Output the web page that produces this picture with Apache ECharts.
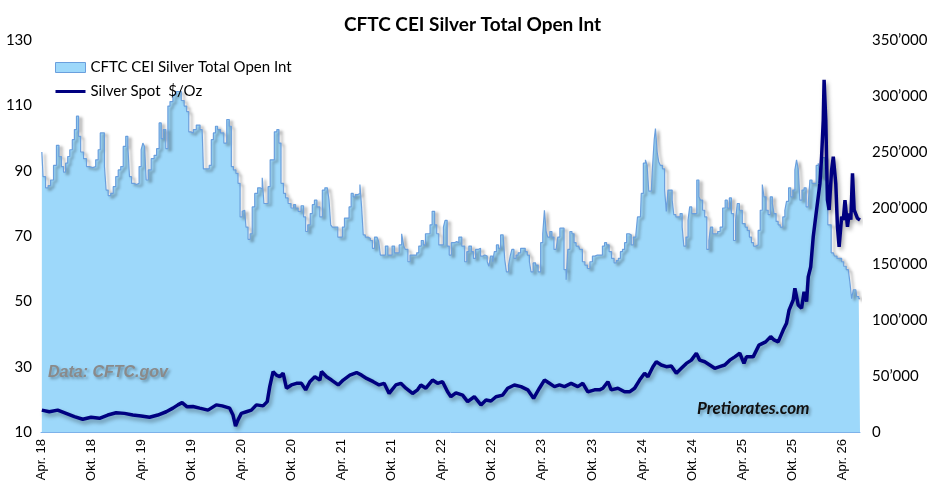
<!DOCTYPE html>
<html>
<head>
<meta charset="utf-8">
<title>CFTC CEI Silver Total Open Int</title>
<script src="https://cdn.jsdelivr.net/npm/echarts@6/dist/echarts.min.js"></script>
<style>
  html, body { margin: 0; padding: 0; background: #fff; }
  #chart { width: 945px; height: 495px; }
</style>
</head>
<body>
<div id="chart"></div>
<script>
// x positions are months since Apr. 2018
var xLabels = ['Apr. 18', 'Okt. 18', 'Apr. 19', 'Okt. 19', 'Apr. 20', 'Okt. 20', 'Apr. 21', 'Okt. 21', 'Apr. 22',
  'Okt. 22', 'Apr. 23', 'Okt. 23', 'Apr. 24', 'Okt. 24', 'Apr. 25', 'Okt. 25', 'Apr. 26'];

// open interest, thousands of contracts (right axis)
var oiMonth = [0.1, 0.4, 0.7, 1.0, 1.3, 1.7, 2.0, 2.3, 2.6, 2.8, 3.1, 3.3, 3.6, 3.9, 4.1, 4.4, 4.6, 4.9, 5.3, 5.6,
  6.0, 6.4, 6.7, 7.0, 7.2, 7.5, 7.7, 7.9, 8.2, 8.5, 8.8, 9.1, 9.4, 9.7, 10.0, 10.3, 10.5, 10.7, 11.0, 11.3,
  11.6, 11.9, 12.1, 12.3, 12.5, 12.7, 13.0, 13.4, 13.7, 14.0, 14.3, 14.5, 14.8, 15.1, 15.3, 15.6, 16.0, 16.4, 16.6, 17.0,
  17.3, 17.6, 17.8, 18.1, 18.4, 18.8, 19.3, 19.6, 20.0, 20.3, 20.5, 20.8, 21.0, 21.3, 21.7, 22.1, 22.4, 22.7, 22.9, 23.2,
  23.5, 23.7, 24.0, 24.2, 24.4, 24.7, 24.9, 25.2, 25.4, 25.8, 26.1, 26.4, 26.6, 26.8, 27.1, 27.3, 27.6, 27.8, 28.1, 28.4,
  28.6, 28.9, 29.2, 29.4, 29.8, 30.1, 30.4, 30.6, 31.0, 31.3, 31.6, 31.8, 32.1, 32.4, 32.6, 32.9, 33.2, 33.6, 33.8, 34.2,
  34.4, 34.6, 34.8, 35.0, 35.4, 35.7, 36.0, 36.2, 36.5, 36.8, 37.0, 37.3, 37.5, 37.8, 38.1, 38.3, 38.5, 38.7, 39.0, 39.3,
  39.6, 39.8, 40.1, 40.4, 40.5, 40.8, 41.1, 41.4, 41.7, 41.9, 42.2, 42.5, 42.8, 43.0, 43.4, 43.5, 43.8, 44.1, 44.3, 44.6,
  44.9, 45.1, 45.4, 45.7, 45.9, 46.2, 46.5, 46.7, 47.0, 47.3, 47.5, 47.8, 48.1, 48.3, 48.5, 48.8, 49.0, 49.3, 49.7, 49.9,
  50.2, 50.6, 50.9, 51.1, 51.4, 51.7, 51.9, 52.2, 52.5, 52.8, 53.0, 53.3, 53.6, 53.7, 54.0, 54.2, 54.4, 54.7, 54.9, 55.2,
  55.5, 55.6, 55.9, 56.1, 56.3, 56.5, 56.8, 57.0, 57.3, 57.6, 57.9, 58.1, 58.4, 58.6, 58.8, 59.1, 59.4, 59.7, 60.0, 60.2,
  60.4, 60.6, 60.8, 61.1, 61.3, 61.6, 61.8, 62.0, 62.3, 62.5, 62.8, 63.0, 63.2, 63.5, 63.7, 64.0, 64.2, 64.4, 64.7, 65.0,
  65.3, 65.6, 65.9, 66.2, 66.5, 66.8, 67.1, 67.4, 67.6, 67.9, 68.2, 68.5, 68.8, 69.0, 69.3, 69.5, 69.8, 70.0, 70.3, 70.6,
  70.8, 71.1, 71.4, 71.5, 71.8, 72.0, 72.3, 72.5, 72.7, 72.9, 73.1, 73.4, 73.5, 73.7, 73.9, 74.1, 74.3, 74.6, 74.8, 75.0,
  75.2, 75.5, 75.7, 75.9, 76.2, 76.4, 76.7, 76.9, 77.1, 77.4, 77.6, 77.8, 78.1, 78.4, 78.7, 78.9, 79.1, 79.4, 79.6, 79.9,
  80.1, 80.3, 80.6, 80.9, 81.2, 81.5, 81.8, 82.1, 82.3, 82.6, 82.8, 83.1, 83.3, 83.5, 83.8, 84.2, 84.5, 84.7, 85.0, 85.2,
  85.5, 85.8, 86.0, 86.3, 86.5, 86.7, 87.0, 87.2, 87.5, 87.7, 87.9, 88.2, 88.4, 88.7, 89.0, 89.2, 89.4, 89.7, 89.9, 90.2,
  90.4, 90.6, 90.8, 91.0, 91.3, 91.5, 91.8, 92.0, 92.2, 92.5, 92.7, 93.0, 93.2, 93.4, 93.7, 94.1, 94.4, 94.9, 95.2, 95.5,
  95.8, 96.0, 96.3, 96.6, 96.8, 97.0, 97.2, 97.4, 97.6, 97.8, 98.1];
var oiValue = [250, 228, 218, 220, 225, 238, 256, 246, 237, 232, 240, 246, 252, 261, 270, 282, 264, 250, 244, 237,
  236, 237, 243, 252, 267, 267, 237, 216, 211, 213, 219, 228, 234, 237, 255, 264, 255, 228, 222, 221,
  222, 237, 252, 258, 255, 225, 234, 244, 247, 253, 276, 262, 270, 253, 291, 295, 301, 304, 304, 296,
  291, 286, 268, 267, 270, 274, 270, 235, 235, 238, 261, 267, 273, 270, 267, 258, 279, 273, 237, 234,
  231, 222, 192, 197, 198, 183, 172, 177, 201, 213, 218, 217, 227, 204, 204, 219, 243, 243, 268, 270,
  258, 222, 213, 209, 204, 200, 203, 200, 197, 202, 192, 179, 185, 195, 203, 207, 201, 192, 216, 218,
  219, 207, 185, 183, 183, 174, 174, 183, 191, 191, 201, 213, 210, 212, 213, 221, 201, 176, 174, 173,
  171, 164, 174, 174, 170, 158, 158, 166, 158, 158, 166, 160, 160, 167, 177, 166, 163, 152, 158, 158,
  158, 160, 166, 171, 167, 177, 177, 185, 197, 185, 177, 167, 167, 183, 189, 166, 158, 169, 170, 169,
  174, 166, 152, 161, 166, 161, 155, 163, 164, 157, 158, 157, 152, 148, 157, 152, 161, 167, 164, 176,
  176, 154, 143, 149, 157, 163, 155, 158, 160, 164, 164, 161, 158, 152, 143, 151, 149, 143, 169, 177,
  198, 179, 174, 179, 174, 163, 163, 174, 182, 182, 145, 136, 163, 179, 177, 169, 166, 166, 163, 152,
  149, 146, 152, 157, 158, 158, 158, 166, 169, 167, 161, 155, 151, 153, 155, 161, 163, 169, 177, 176,
  167, 174, 176, 192, 192, 213, 240, 243, 238, 215, 215, 237, 261, 271, 250, 241, 238, 235, 216, 197,
  216, 216, 207, 194, 192, 192, 195, 183, 166, 174, 189, 201, 195, 195, 225, 210, 207, 198, 192, 163,
  171, 183, 177, 177, 179, 183, 200, 207, 200, 209, 195, 171, 189, 204, 198, 186, 183, 180, 174, 169,
  166, 167, 180, 198, 221, 210, 198, 194, 210, 204, 195, 188, 185, 183, 192, 198, 206, 218, 210, 216,
  234, 243, 235, 207, 216, 218, 201, 204, 225, 222, 222, 238, 240, 228, 245, 225, 185, 160, 157, 155,
  155, 152, 148, 145, 145, 133, 119, 127, 127, 121, 119];

// silver spot, $/oz (left axis)
var agMonth = [0.1, 1.0, 2.0, 3.0, 4.0, 5.0, 6.0, 7.0, 8.0, 9.0, 10.0, 11.0, 12.0, 13.0, 14.0, 15.0, 15.8, 16.4, 16.9, 17.5,
  18.2, 19.0, 20.0, 21.0, 21.7, 22.6, 23.0, 23.3, 23.6, 24.0, 24.6, 25.2, 25.8, 26.6, 27.1, 27.4, 27.8, 28.2, 28.6, 29.0,
  29.4, 30.0, 30.6, 31.2, 31.7, 32.2, 32.8, 33.4, 33.6, 34.2, 34.8, 35.6, 36.2, 37.0, 37.8, 38.4, 39.0, 39.8, 40.5, 41.1,
  41.7, 42.5, 43.1, 43.7, 44.5, 45.1, 45.5, 46.1, 46.9, 47.5, 48.1, 48.7, 49.1, 49.7, 50.5, 51.1, 51.9, 52.7, 53.3, 53.9,
  54.5, 55.3, 55.9, 56.7, 57.5, 58.3, 59.0, 59.7, 60.3, 60.9, 61.5, 62.1, 62.7, 63.5, 64.3, 64.9, 65.5, 66.3, 66.9, 67.3,
  67.9, 68.3, 69.1, 69.9, 70.5, 71.1, 71.7, 72.3, 72.7, 73.3, 73.7, 74.3, 74.9, 75.5, 76.1, 76.7, 77.3, 77.9, 78.5, 78.9,
  79.5, 80.1, 80.7, 81.3, 81.9, 82.5, 83.1, 83.7, 84.2, 84.5, 85.3, 86.0, 86.8, 87.4, 87.8, 88.3, 88.9, 89.3, 89.6, 90.1,
  90.3, 90.7, 91.1, 91.4, 91.7, 91.9, 92.2, 92.5, 92.9, 93.3, 93.5, 93.7, 93.8, 94.0, 94.2, 94.4, 94.7, 94.9, 95.2, 95.4,
  95.6, 95.9, 96.1, 96.3, 96.6, 96.8, 97.0, 97.2, 97.4, 97.6, 97.8, 98.1];
var agPrice = [16.7, 16.2, 16.7, 15.7, 14.7, 13.9, 14.5, 14.2, 15.2, 15.9, 15.7, 15.2, 14.9, 14.5, 15.2, 16.2, 17.3, 18.3, 19.0, 17.7,
  17.8, 17.3, 16.7, 18.3, 18.0, 17.3, 15.2, 11.8, 13.7, 15.7, 16.2, 16.7, 18.3, 18.0, 19.3, 23.9, 28.5, 27.4, 26.9, 28.0,
  23.4, 24.4, 24.9, 24.9, 22.9, 25.4, 26.9, 25.9, 28.5, 26.9, 25.9, 24.4, 25.9, 27.4, 28.2, 27.4, 26.4, 25.4, 24.4, 24.9,
  21.8, 24.4, 24.9, 23.4, 21.8, 22.9, 24.4, 23.4, 25.9, 24.9, 25.4, 22.3, 20.8, 22.0, 21.3, 19.3, 20.8, 18.3, 19.8, 19.5,
  20.8, 21.3, 23.4, 24.4, 23.9, 22.9, 20.3, 23.4, 25.9, 24.9, 23.9, 24.4, 23.9, 24.9, 23.9, 24.9, 22.3, 22.9, 22.9, 23.4,
  25.4, 22.9, 23.4, 22.3, 22.3, 23.4, 25.9, 28.0, 26.9, 30.0, 31.5, 30.5, 30.0, 30.2, 28.0, 29.5, 31.0, 32.0, 34.1, 32.0,
  31.5, 30.5, 29.5, 30.0, 30.5, 32.0, 33.0, 34.1, 31.0, 33.0, 33.0, 36.6, 37.6, 39.2, 38.2, 37.6, 41.2, 43.3, 47.3, 50.4,
  54.0, 48.9, 47.9, 52.9, 49.9, 57.5, 60.6, 69.8, 78.0, 86.1, 94.3, 105.5, 117.8, 105.5, 81.0, 78.0, 90.2, 94.3, 86.0, 72.8,
  66.7, 75.9, 74.9, 81.0, 72.8, 76.9, 75.0, 89.2, 78.0, 78.0, 75.4, 74.9];

var rightTicks = ['0', '50’000', '100’000', '150’000', '200’000', '250’000', '300’000', '350’000'];

var oiData = []
for (var i = 0; i < oiMonth.length; i++) {
  oiData.push([oiMonth[i], oiValue[i]])
}
var agData = []
for (var i = 0; i < agMonth.length; i++) {
  agData.push([agMonth[i], agPrice[i]])
}

var areaColor = '#9DD8FA'
var edgeColor = '#6A9FDD'
var silverColor = '#000080'
var labelFont = 'Lato'

var chart = echarts.init(document.getElementById('chart'))

var option = {
  animation: false,
  backgroundColor: '#fff',
  title: {
    text: 'CFTC CEI Silver Total Open Int',
    left: 'center',
    top: 10,
    textStyle: { fontFamily: labelFont, fontWeight: 'bold', fontSize: 19, color: '#000' }
  },
  legend: {
    orient: 'vertical',
    left: 50,
    top: 55,
    itemWidth: 30,
    itemHeight: 10,
    itemGap: 9,
    textStyle: { fontFamily: labelFont, fontSize: 15, color: '#000' },
    data: [{
      name: 'CFTC CEI Silver Total Open Int',
      icon: 'rect',
      itemStyle: { color: areaColor, borderColor: edgeColor, borderWidth: 1 }
    }, {
      // plain thick line, no marker
      name: 'Silver Spot  $/Oz',
      icon: 'path://M0,0 L30,0 L30,3 L0,3 Z',
      itemStyle: { color: silverColor, borderWidth: 0 }
    }]
  },
  grid: { left: 41, right: 85, top: 40, bottom: 63 },
  xAxis: {
    type: 'value',
    min: 0,
    max: 98.1,
    interval: 6,
    splitLine: { show: false },
    axisTick: { show: false },
    axisLine: { lineStyle: { color: '#7DB2EA', width: 1 } },
    axisLabel: {
      rotate: 90,
      margin: 7,
      fontFamily: 'Liberation Sans',
      fontSize: 13,
      color: '#000',
      showMaxLabel: false,
      formatter: function (v) {
        if (v % 6 !== 0) return ''
        return xLabels[v / 6] || ''
      }
    }
  },
  yAxis: [{
    type: 'value',
    min: 10,
    max: 130,
    interval: 20,
    position: 'left',
    splitLine: { show: false },
    axisLine: { show: false },
    axisTick: { show: false },
    axisLabel: { fontFamily: labelFont, fontSize: 15, color: '#000', margin: 9 }
  }, {
    type: 'value',
    min: 0,
    max: 350,
    interval: 50,
    position: 'right',
    splitLine: { show: false },
    axisLine: { show: false },
    axisTick: { show: false },
    axisLabel: {
      fontFamily: labelFont,
      fontSize: 15,
      color: '#000',
      margin: 12,
      formatter: function (v) {
        return rightTicks[v / 50]
      }
    }
  }],
  graphic: [{
    type: 'text',
    left: 48,
    top: 365,
    z: 10,
    style: {
      text: 'Data: CFTC.gov',
      font: 'italic bold 16px "Liberation Sans"',
      fill: '#8A8A8A',
      textShadowColor: 'rgba(0,0,0,0.35)',
      textShadowBlur: 3,
      textShadowOffsetX: 2,
      textShadowOffsetY: 2
    }
  }, {
    type: 'text',
    left: 697,
    top: 400,
    z: 10,
    style: {
      text: 'Pretiorates.com',
      font: 'italic bold 17px Lato',
      fill: '#111',
      textShadowColor: 'rgba(0,0,0,0.3)',
      textShadowBlur: 3,
      textShadowOffsetX: 2,
      textShadowOffsetY: 2
    }
  }],
  series: [{
    name: 'CFTC CEI Silver Total Open Int',
    type: 'line',
    yAxisIndex: 1,
    data: oiData,
    step: 'middle',
    symbol: 'none',
    lineStyle: {
      color: edgeColor,
      width: 1.2,
      shadowColor: 'rgba(0,0,0,0.45)',
      shadowBlur: 3,
      shadowOffsetX: 3,
      shadowOffsetY: 2
    },
    itemStyle: { color: areaColor, borderColor: edgeColor },
    areaStyle: { color: areaColor, opacity: 1 },
    z: 2
  }, {
    name: 'Silver Spot  $/Oz',
    type: 'line',
    yAxisIndex: 0,
    data: agData,
    symbol: 'none',
    lineStyle: {
      color: silverColor,
      width: 3.5,
      shadowColor: 'rgba(0,0,0,0.35)',
      shadowBlur: 4,
      shadowOffsetX: 2,
      shadowOffsetY: 3
    },
    itemStyle: { color: silverColor },
    z: 3
  }]
};

chart.setOption(option);
</script>
</body>
</html>
